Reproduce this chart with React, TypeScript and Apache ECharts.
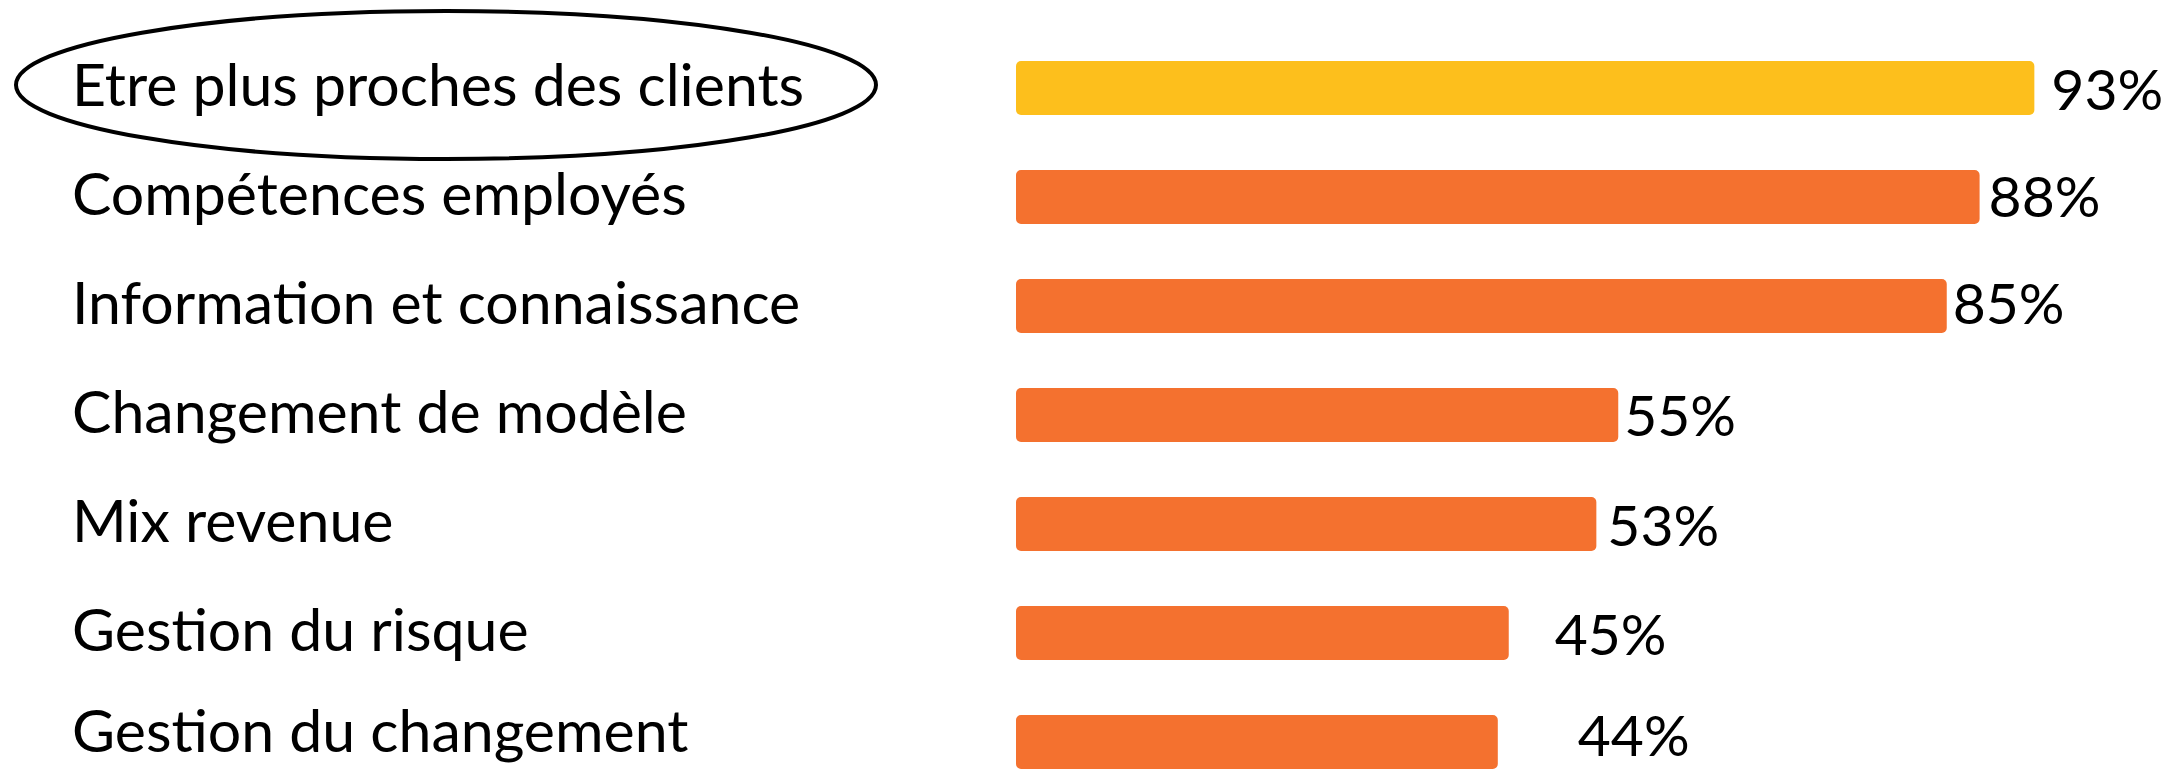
import React, { useEffect, useRef } from "react";
import * as echarts from "echarts";

const categories = [
  "Etre plus proches des clients",
  "Compétences employés",
  "Information et connaissance",
  "Changement de modèle",
  "Mix revenue",
  "Gestion du risque",
  "Gestion du changement",
];
const values = [93, 88, 85, 55, 53, 45, 44];
const highlightIndex = 0;
// label nudges [dx, dy] to mimic hand-placed labels
const labelNudge = [
  [7, 0],
  [-1, -2],
  [-4, -4],
  [-4, -1],
  [1, 0],
  [36, 0],
  [70, -8],
];

const FONT = "Lato";
const YELLOW = "#FDBF1C";
const ORANGE = "#F4712F";

export default function App() {
  const ref = useRef<HTMLDivElement>(null);
  useEffect(() => {
    if (!ref.current) return;
    const chart = echarts.init(ref.current, null, { renderer: "svg" });
    const lastIdx = categories.length - 1;
    const catText = {
      color: "#000",
      fontFamily: FONT,
      fontSize: 59,
    };
    chart.setOption({
      animation: false,
      backgroundColor: "#ffffff",
      grid: {
        left: 1016,
        width: 1095,
        top: 33.5,
        height: 763,
        containLabel: false,
        outerBoundsMode: "none",
      },
      xAxis: {
        type: "value",
        min: 0,
        max: 100,
        show: false,
      },
      yAxis: {
        type: "category",
        data: categories,
        inverse: true,
        axisLine: { show: false },
        axisTick: { show: false },
        splitLine: { show: false },
        axisLabel: {
          ...catText,
          align: "left",
          margin: 944,
          formatter: (v: string, i: number) =>
            i === lastIdx ? `{last|${v}}` : `{n|${v}}`,
          rich: {
            n: { ...catText, padding: [0, 0, 10, 0] },
            last: { ...catText, padding: [0, 0, 26, 0] },
          },
        },
      },
      series: [
        {
          type: "bar",
          barWidth: 54,
          data: values.map((v, i) => ({
            value: v,
            itemStyle: {
              color: i === highlightIndex ? YELLOW : ORANGE,
              borderRadius: 5,
            },
            label: {
              show: true,
              position: "right",
              distance: 10,
              offset: labelNudge[i],
              formatter: "{c}%",
              color: "#000",
              fontFamily: FONT,
              fontSize: 57,
            },
          })),
        },
      ],
      graphic: [
        {
          type: "ellipse",
          shape: { cx: 446, cy: 85, rx: 430, ry: 74 },
          style: { fill: "none", stroke: "#000", lineWidth: 4 },
          z: 10,
        },
      ],
    });
    return () => chart.dispose();
  }, []);
  return (
    <div
      ref={ref}
      style={{ position: "absolute", left: 0, top: 0, width: 2174, height: 769 }}
    />
  );
}
